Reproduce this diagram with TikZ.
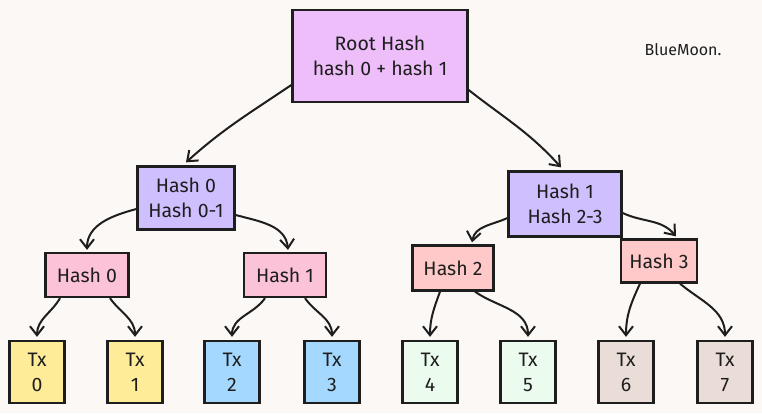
\documentclass[tikz,border=0pt]{standalone}
\usepackage{fontspec}
\setmainfont{Fira Sans}
\usetikzlibrary{arrows.meta}

\definecolor{paper}{HTML}{FCF8F6}
\definecolor{ink}{HTML}{1E1E1E}
\definecolor{rootfill}{HTML}{EEBEFA}
\definecolor{violetfill}{HTML}{D0BFFF}
\definecolor{pinkfill}{HTML}{FCC2D7}
\definecolor{redfill}{HTML}{FFC9C9}
\definecolor{yellowfill}{HTML}{FFEC99}
\definecolor{bluefill}{HTML}{A5D8FF}
\definecolor{greenfill}{HTML}{EBFBEE}
\definecolor{brownfill}{HTML}{EADDD7}

\begin{document}
\begin{tikzpicture}[x=1pt, y=-1pt,
    box/.style={draw=ink, line width=2.3pt, align=center, text=ink, inner sep=0pt, font=\fontsize{19.5}{25}\selectfont},
    txbox/.style={box, minimum width=55pt, minimum height=62pt},
    link/.style={-{Straight Barb[length=9pt, width=14pt]}, line width=2pt, draw=ink}
]

% Paper
\fill[paper] (0,0) rectangle (762,413);

% Root node
\node[box, fill=rootfill, minimum width=175pt, minimum height=92pt] (root) at (380,56) {Root Hash\\hash 0 + hash 1};

% Second level
\node[box, fill=violetfill, minimum width=97pt, minimum height=63pt] (h01) at (186,198) {Hash 0\\Hash 0-1};
\node[box, fill=violetfill, minimum width=113pt, minimum height=65pt] (h23) at (565,204) {Hash 1\\Hash 2-3};

% Third level
\node[box, fill=pinkfill, minimum width=83pt, minimum height=44pt] (h0) at (87,275) {Hash 0};
\node[box, fill=pinkfill, minimum width=82pt, minimum height=44pt] (h1) at (285,275) {Hash 1};
\node[box, fill=redfill, minimum width=81pt, minimum height=45pt] (h2) at (453,268) {Hash 2};
\node[box, fill=redfill, minimum width=76pt, minimum height=43pt] (h3) at (659,261) {Hash 3};

% Transactions
\node[txbox, fill=yellowfill] (tx0) at (37,372) {Tx\\0};
\node[txbox, fill=yellowfill] (tx1) at (135,372) {Tx\\1};
\node[txbox, fill=bluefill] (tx2) at (232,372) {Tx\\2};
\node[txbox, fill=bluefill] (tx3) at (332,372) {Tx\\3};
\node[txbox, fill=greenfill] (tx4) at (430,372) {Tx\\4};
\node[txbox, fill=greenfill] (tx5) at (528,372) {Tx\\5};
\node[txbox, fill=brownfill] (tx6) at (626,372) {Tx\\6};
\node[txbox, fill=brownfill] (tx7) at (725,372) {Tx\\7};

% Signature
\node[font=\fontsize{16}{19}\selectfont, text=ink] (sign) at (683,50) {BlueMoon.};

% Root to second level
\draw[link] ([yshift=-29pt]root.west) to[out=214, in=42] ([yshift=3pt]h01.north);
\draw[link] ([yshift=-34pt]root.east) to[out=-38, in=132] ([xshift=-4pt, yshift=3pt]h23.north);

% Second to third level
\draw[link] ([yshift=-11pt]h01.west) to[out=195, in=90] ([yshift=2pt]h0.north);
\draw[link] ([yshift=-17pt]h01.east) to[out=-15, in=95] ([xshift=3pt, yshift=2pt]h1.north);
\draw[link] ([yshift=-14pt]h23.west) to[out=205, in=80] ([xshift=19pt, yshift=2pt]h2.north);
\draw[link] ([yshift=-9pt]h23.east) to[out=-25, in=130] ([xshift=17pt, yshift=2pt]h3.north);

% Third level to transactions
\draw[link] ([xshift=-27pt]h0.south) to[out=240, in=90] ([yshift=3pt]tx0.north);
\draw[link] ([xshift=23pt]h0.south) to[out=-55, in=90] ([yshift=3pt]tx1.north);
\draw[link] ([xshift=-20pt]h1.south) to[out=235, in=90] ([yshift=3pt]tx2.north);
\draw[link] ([xshift=20pt]h1.south) to[out=-55, in=90] ([yshift=3pt]tx3.north);
\draw[link] ([xshift=-13pt]h2.south) to[out=250, in=90] ([yshift=3pt]tx4.north);
\draw[link] ([xshift=22pt]h2.south) to[out=-35, in=90] ([yshift=3pt]tx5.north);
\draw[link] ([xshift=-19pt]h3.south) to[out=245, in=90] ([yshift=3pt]tx6.north);
\draw[link] ([xshift=21pt]h3.south) to[out=-40, in=90] ([yshift=3pt]tx7.north);

\end{tikzpicture}
\end{document}
